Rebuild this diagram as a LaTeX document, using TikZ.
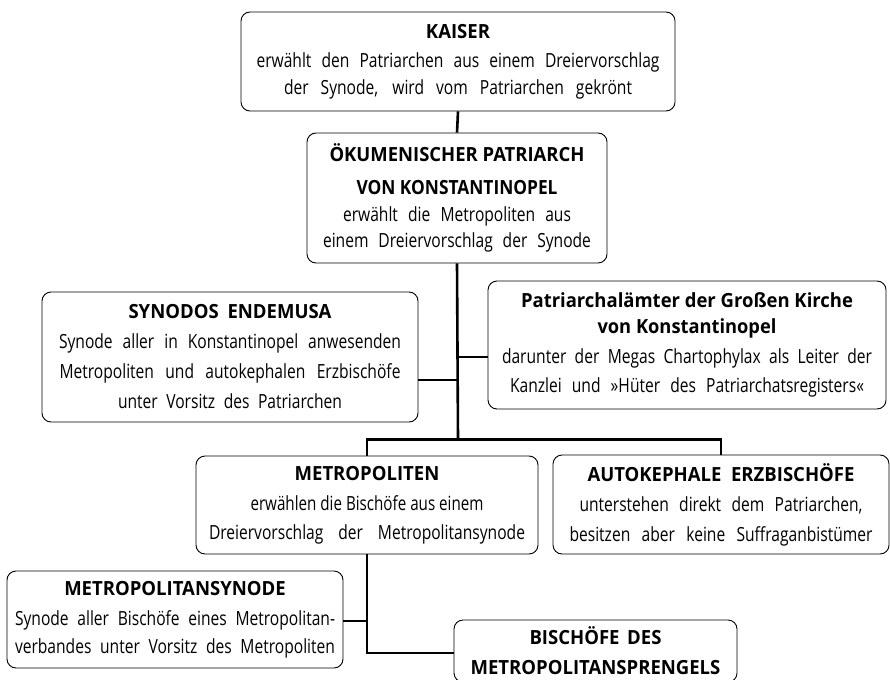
\documentclass[tikz,border=0pt]{standalone}
\usepackage{fontspec}
\usepackage{graphicx}
\newfontfamily\bodyfont{Open Sans}[FakeStretch=0.80]
\newfontfamily\titlefont{Open Sans}[FakeStretch=0.95]
\newsavebox\jbox
\newlength\jlen
\newcommand\fitline[2]{\sbox\jbox{#2}\setlength\jlen{\wd\jbox}%
  \ifdim\jlen>#1pt\scalebox{\fpeval{#1pt/\jlen}}[1]{\usebox\jbox}\else\makebox[#1pt][s]{#2}\fi}
\newcommand\tline[2]{{\titlefont\bfseries\fitline{#1}{#2}}}
\newcommand\bline[2]{\fitline{#1}{#2}}
\begin{document}
\begin{tikzpicture}[x=1pt,y=-1pt,
  box/.style={draw, rounded corners=9pt, line width=0.9pt, inner sep=0pt, align=center,
    font=\bodyfont\fontsize{19.5}{29}\selectfont},
  conn/.style={line width=2.6pt}]
\useasboundingbox (0,0) rectangle (890,679);
\node[box, minimum width=434pt, minimum height=99pt] (kaiser) at (458,61.5)
  {{\titlefont\bfseries KAISER}\\[0pt]
   \bline{403}{erwählt den Patriarchen aus einem Dreiervorschlag}\\[-2pt]
   \bline{348}{der Synode, wird vom Patriarchen gekrönt}};
\node[box, minimum width=300pt, minimum height=130pt] (patr) at (457,198)
  {\tline{255}{ÖKUMENISCHER PATRIARCH}\\[4pt]
   \tline{201}{VON KONSTANTINOPEL}\\[-2pt]
   \bline{228}{erwählt die Metropoliten aus}\\[-3pt]
   \bline{268}{einem Dreiervorschlag der Synode}};
\node[box, minimum width=376pt, minimum height=130pt] (syn) at (230,357)
  {\tline{203}{SYNODOS ENDEMUSA}\\[1pt]
   \bline{342}{Synode aller in Konstantinopel anwesenden}\\[1pt]
   \bline{341}{Metropoliten und autokephalen Erzbischöfe}\\[1pt]
   \bline{224}{unter Vorsitz des Patriarchen}};
\node[box, minimum width=398pt, minimum height=128pt] (amt) at (687,345)
  {\tline{332}{Patriarchalämter der Großen Kirche}\\[-3pt]
   \tline{179}{von Konstantinopel}\\[1pt]
   \bline{370}{darunter der Megas Chartophylax als Leiter der}\\[0pt]
   \bline{354}{Kanzlei und »Hüter des Patriarchatsregisters«}};
\node[box, minimum width=342pt, minimum height=98pt] (metro) at (367,505)
  {{\titlefont\bfseries METROPOLITEN}\\[1pt]
   \bline{233}{erwählen die Bischöfe aus einem}\\[0pt]
   \bline{316}{Dreiervorschlag der Metropolitansynode}};
\node[box, minimum width=336pt, minimum height=99pt] (auto) at (721,504.5)
  {\tline{267}{AUTOKEPHALE ERZBISCHÖFE}\\[1pt]
   \bline{283}{unterstehen direkt dem Patriarchen,}\\[1pt]
   \bline{303}{besitzen aber keine Suffraganbistümer}};
\node[box, minimum width=336pt, minimum height=97pt] (msyn) at (175,619.5)
  {{\titlefont\bfseries METROPOLITANSYNODE}\\[1pt]
   \bline{320}{Synode aller Bischöfe eines Metropolitan-}\\[-1pt]
   \bline{320}{verbandes unter Vorsitz des Metropoliten}};
\node[box, minimum width=283pt, minimum height=62pt] (bisch) at (595.5,651)
  {\tline{132}{BISCHÖFE DES}\\[1pt]
   {\titlefont\bfseries METROPOLITANSPRENGELS}};
\coordinate (t1) at (458,380);
\coordinate (t2) at (458,357);
\coordinate (j1) at (458,440);
\draw[conn] (kaiser.south) -- (patr.north);
\draw[conn] (patr.south) -- (j1);
\draw[conn] ([yshift=-23pt]syn.east) -- (t1);
\draw[conn] (t2) -- ([yshift=-12pt]amt.west);
\draw[conn] (metro.north) -- ++(0,-16) -| (auto.north);
\draw[conn] ([yshift=-2pt]bisch.west) -| (metro.south);
\draw[conn] ([yshift=-1.5pt]msyn.east) -- ([yshift=-1.5pt]msyn.east -| metro.south);
\end{tikzpicture}
\end{document}
